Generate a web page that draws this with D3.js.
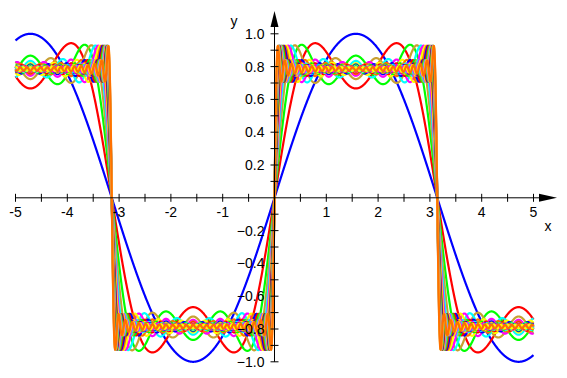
<!DOCTYPE html>
<html>
<head>
<meta charset="utf-8">
<script src="https://cdn.jsdelivr.net/npm/d3@7"></script>
<style>
  body { margin: 0; background: #fff; }
  svg { display: block; }
</style>
</head>
<body>
<svg id="chart" width="567" height="378"></svg>
<script>
// partial sums of the square wave series: sum sin(h x)/h over odd h
const termCounts = [1, 2, 3, 4, 5, 6, 7, 8, 9, 10, 11, 12, 13, 14, 15, 16, 17, 18, 19, 20, 21, 22, 23, 24]
const curveColours = ['#0000ff', '#ff0000', '#00ff00', '#c8a032', '#00ffff', '#ff00ff', '#ffff00', '#ff7000']
const xDomain = [-5, 5]
const xTickValues = [-5, -4.5, -4, -3.5, -3, -2.5, -2, -1.5, -1, -0.5, 0.5, 1, 1.5, 2, 2.5, 3, 3.5, 4, 4.5, 5]
const xTickLabels = [-5, -4, -3, -2, -1, 1, 2, 3, 4, 5]
const yTickValues = [-1, -0.9, -0.8, -0.7, -0.6, -0.5, -0.4, -0.3, -0.2, -0.1, 0.1, 0.2, 0.3, 0.4, 0.5, 0.6, 0.7, 0.8, 0.9, 1]
const yTickLabels = [-1, -0.8, -0.6, -0.4, -0.2, 0.2, 0.4, 0.6, 0.8, 1]

let svg = d3.select('#chart')

let x = d3.scaleLinear().domain(xDomain).range([15.5, 533.5])
let y = d3.scaleLinear().domain([-1, 1]).range([361.8, 33.8])

// sample the x range
let samples = []
for (let v = xDomain[0]; v <= xDomain[1] + 1e-9; v += 0.004) samples.push(v)

function partialSum(n, v) {
    let s = 0
    for (let k = 1; k <= n; k++) {
        let h = 2 * k - 1
        s += Math.sin(h * v) / h
    }
    return s
}

let line = d3.line()
    .x(d => x(d[0]))
    .y(d => y(d[1]))

// CURVES
svg.append('g')
    .selectAll('path')
    .data(termCounts)
    .join('path')
        .attr('d', n => line(samples.map(v => [v, partialSum(n, v)])))
        .attr('fill', 'none')
        .attr('stroke', (n, i) => curveColours[i % curveColours.length])
        .attr('stroke-width', 2.2)
        .attr('stroke-linejoin', 'round')

// AXES
let x0 = x(0), y0 = y(0)
let axes = svg.append('g').attr('stroke', '#000').attr('stroke-width', 1)

axes.append('line')
    .attr('x1', x(-5)).attr('x2', 545)
    .attr('y1', y0).attr('y2', y0)
axes.append('line')
    .attr('x1', x0).attr('x2', x0)
    .attr('y1', y(-1)).attr('y2', 20)

axes.selectAll('.xt')
    .data(xTickValues)
    .join('line')
        .attr('x1', d => x(d)).attr('x2', d => x(d))
        .attr('y1', y0 - 4).attr('y2', y0 + 4)
axes.selectAll('.yt')
    .data(yTickValues)
    .join('line')
        .attr('class', 'yt')
        .attr('x1', x0 - 4).attr('x2', x0 + 4)
        .attr('y1', d => y(d)).attr('y2', d => y(d))

// ARROWS
svg.append('path')
    .attr('d', `M${539},${y0 - 4}L${557},${y0}L${539},${y0 + 4}Z`)
    .attr('fill', '#000')
svg.append('path')
    .attr('d', `M${x0 - 4},${27}L${x0},${11}L${x0 + 4},${27}Z`)
    .attr('fill', '#000')

// LABELS
let labels = svg.append('g')
    .attr('font-family', 'Liberation Sans, Arial, sans-serif')
    .attr('font-size', 14)
    .attr('fill', '#000')

labels.selectAll('.xl')
    .data(xTickLabels)
    .join('text')
        .attr('x', d => x(d))
        .attr('y', y0 + 19)
        .attr('text-anchor', 'middle')
        .text(d => d)

labels.selectAll('.yl')
    .data(yTickLabels)
    .join('text')
        .attr('class', 'yl')
        .attr('x', x0 - 10)
        .attr('y', d => y(d) + 5)
        .attr('text-anchor', 'end')
        .text(d => d3.format('.1f')(d))

labels.append('text')
    .attr('x', 548)
    .attr('y', 231)
    .attr('text-anchor', 'middle')
    .text('x')
labels.append('text')
    .attr('x', 234)
    .attr('y', 26)
    .attr('text-anchor', 'middle')
    .text('y')
</script>
</body>
</html>
